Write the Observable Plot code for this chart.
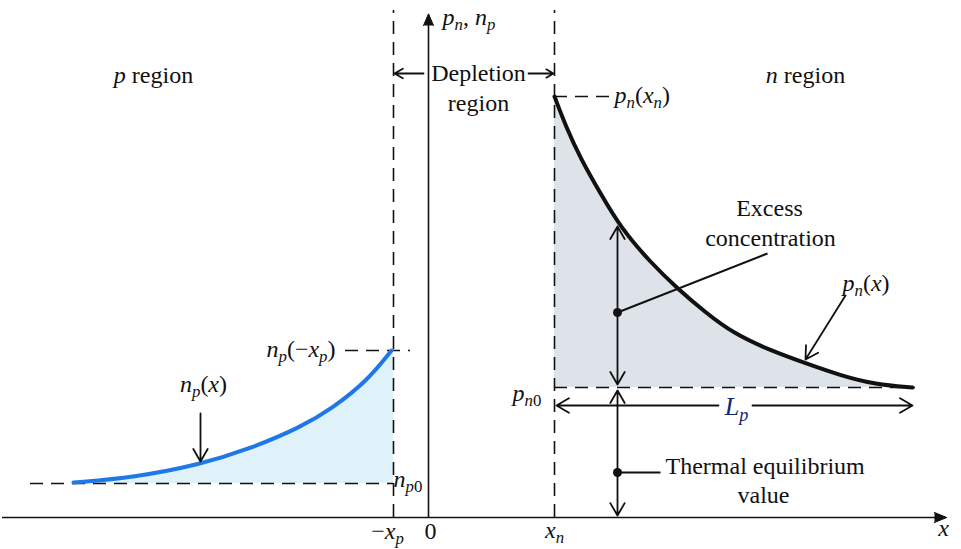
<!DOCTYPE html>
<html>
<head>
<meta charset="utf-8">
<script src="https://cdn.jsdelivr.net/npm/d3@7"></script>
<script src="https://cdn.jsdelivr.net/npm/@observablehq/plot@0.6"></script>
<style>
  html, body { margin: 0; padding: 0; background: #fff; }
  #chart svg { display: block; }
</style>
</head>
<body>
<div id="chart"></div>
<script>
// ---- Data (x: position relative to junction origin, y: concentration above axis) ----
const xP = -35;        // −x_p
const xN = 126;        // x_n
const pn0 = 130;       // thermal equilibrium hole conc. in n region
const np0 = 34;        // thermal equilibrium electron conc. in p region
const pnXn = 421;      // p_n(x_n)
const npXp = 167;      // n_p(−x_p)

// p_n(x) curve in the n region
const pnX = [126, 137, 152, 172, 192, 222, 249, 277, 305, 342, 375, 412, 447, 484];
const pnY = [421, 392, 359, 324, 290, 255, 229, 205, 184, 167, 155, 142, 133, 130];
// n_p(x) curve in the p region
const npX = [-355, -295, -228, -178, -128, -95, -61, -37];
const npY = [35, 40, 53, 69, 90, 110, 137, 167];

const pnCurve = pnX.map((x, i) => ({x, y: pnY[i]}));
const npCurve = npX.map((x, i) => ({x, y: npY[i]}));

// dashed guide lines
const vGuides = [{x: xP, y1: 0, y2: 507}, {x: xN, y1: 0, y2: 507}];
const hGuides = [
  {y: np0, x1: -398, x2: xP},
  {y: npXp, x1: -83, x2: -18},
  {y: pnXn, x1: xN, x2: 184},
  {y: pn0, x1: xN, x2: 487}
];

// arrows (open heads)
const arrows = [
  {x1: -5, y1: 444, x2: -34, y2: 444},     // depletion left
  {x1: 100, y1: 444, x2: 125, y2: 444},    // depletion right
  {x1: -228, y1: 104, x2: -228, y2: 56},   // n_p(x)
  {x1: 417, y1: 222, x2: 377, y2: 158},    // p_n(x)
  {x1: 189, y1: 205, x2: 189, y2: 291},    // excess up
  {x1: 189, y1: 205, x2: 189, y2: 133},    // excess down
  {x1: 189, y1: 45, x2: 189, y2: 127},     // thermal up
  {x1: 189, y1: 45, x2: 189, y2: 2},       // thermal down
  {x1: 290, y1: 112, x2: 128, y2: 112},    // L_p left
  {x1: 324, y1: 112, x2: 484, y2: 112}     // L_p right
];

// pointer lines and dots
const pointers = [
  {x1: 189, y1: 205, x2: 339, y2: 264},
  {x1: 189, y1: 45, x2: 232, y2: 45}
];
const dots = [{x: 189, y: 205}, {x: 189, y: 45}];

// axes
const axisLines = {xFrom: -426, xTo: 510, yTo: 494};
const axisHeads = [
  {x: 506, y: 0, rotate: 90, length: 21},
  {x: 0, y: 492, rotate: 0, length: 20}
];

// text labels ($...$ = math: letters italic; _x or _{..} = subscript)
const labels = [
  {x: -275, y: 442, text: "$p$ region", anchor: "middle"},
  {x: 377, y: 442, text: "$n$ region", anchor: "middle"},
  {x: 50, y: 444, text: "Depletion", anchor: "middle"},
  {x: 50, y: 414, text: "region", anchor: "middle"},
  {x: 14, y: 500, text: "$p_n, n_p$", anchor: "start"},
  {x: 186, y: 422, text: "$p_n(x_n)$", anchor: "start"},
  {x: 341, y: 309, text: "Excess", anchor: "middle"},
  {x: 342, y: 279, text: "concentration", anchor: "middle"},
  {x: 414, y: 234, text: "$p_n(x)$", anchor: "start"},
  {x: -93, y: 168, text: "$n_p(−x_p)$", anchor: "end"},
  {x: -225, y: 133, text: "$n_p(x)$", anchor: "middle"},
  {x: -35, y: 38, text: "$n_{p0}$", anchor: "start"},
  {x: 84, y: 124, text: "$p_{n0}$", anchor: "start"},
  {x: 237, y: 51, text: "Thermal equilibrium", anchor: "start"},
  {x: 335, y: 22, text: "value", anchor: "middle"},
  {x: -41, y: -14, text: "$−x_p$", anchor: "middle"},
  {x: 2, y: -14, text: "0", anchor: "middle"},
  {x: 126, y: -13, text: "$x_n$", anchor: "middle"},
  {x: 515, y: -11, text: "$x$", anchor: "middle"}
];
const lpLabel = [{x: 308, y: 111, text: "$L_p$"}];

const ink = "#111";
const plot = Plot.plot({
  width: 961,
  height: 549,
  margin: 0,
  style: {background: "#fff"},
  x: {domain: [-428, 533], axis: null},
  y: {domain: [-32, 517], axis: null},
  marks: [
    Plot.areaY(pnCurve, {x: "x", y1: pn0, y2: "y", fill: "#dee3e9", curve: "basis"}),
    Plot.areaY(npCurve.concat([{x: xP, y: npXp}]), {x: "x", y1: np0, y2: "y", fill: "#dff2fa"}),
    Plot.ruleX(vGuides, {x: "x", y1: "y1", y2: "y2", stroke: ink, strokeWidth: 1.6, strokeDasharray: "13,8"}),
    Plot.ruleY(hGuides, {y: "y", x1: "x1", x2: "x2", stroke: ink, strokeWidth: 1.6, strokeDasharray: "13,8"}),
    Plot.ruleY([0], {x1: axisLines.xFrom, x2: axisLines.xTo, stroke: ink, strokeWidth: 1.6}),
    Plot.ruleX([0], {y1: 0, y2: axisLines.yTo, stroke: ink, strokeWidth: 1.6}),
    Plot.vector(axisHeads, {x: "x", y: "y", rotate: "rotate", length: "length", shape: "spike", r: 5, anchor: "start", fill: ink, stroke: ink, strokeWidth: 1}),
    Plot.line(pnCurve, {x: "x", y: "y", stroke: ink, strokeWidth: 4, curve: "basis"}),
    Plot.line(npCurve, {x: "x", y: "y", stroke: "#1f78e6", strokeWidth: 4, curve: "basis"}),
    Plot.arrow(arrows, {x1: "x1", y1: "y1", x2: "x2", y2: "y2", stroke: ink, strokeWidth: 1.8, headLength: 12, headAngle: 60}),
    Plot.link(pointers, {x1: "x1", y1: "y1", x2: "x2", y2: "y2", stroke: ink, strokeWidth: 2}),
    Plot.dot(dots, {x: "x", y: "y", r: 4.5, fill: ink}),
    Plot.text(labels, {x: "x", y: "y", text: "text", fontSize: 24, fill: ink}),
    Plot.text(lpLabel, {x: "x", y: "y", text: "text", textAnchor: "middle", fontSize: 26, fill: "#16286b"})
  ]
});

document.getElementById("chart").appendChild(plot);

// apply serif font, anchors per label and rich text (italic math letters, subscripts)
plot.querySelectorAll("text").forEach(t => {
  t.style.fontFamily = '"Liberation Serif"';
  const s = t.textContent;
  const lab = labels.find(l => l.text === s);
  if (lab) t.setAttribute("text-anchor", lab.anchor);
  if (!/[$_]/.test(s)) return;
  const fs = parseFloat(getComputedStyle(t).fontSize) || 24;
  const segs = [];
  let math = false, i = 0;
  while (i < s.length) {
    const c = s[i];
    if (c === "$") { math = !math; i++; continue; }
    let sub = false, chunk;
    if (c === "_") {
      sub = true;
      if (s[i + 1] === "{") { const j = s.indexOf("}", i); chunk = s.slice(i + 2, j); i = j + 1; }
      else { chunk = s[i + 1]; i += 2; }
    } else { chunk = c; i++; }
    for (const ch of chunk) {
      const it = math && /[A-Za-z]/.test(ch);
      const last = segs[segs.length - 1];
      if (last && last.it === it && last.sub === sub) last.t += ch;
      else segs.push({t: ch, it, sub});
    }
  }
  t.textContent = "";
  let shifted = false;
  const shift = 0.22 * fs;
  for (const seg of segs) {
    const ts = document.createElementNS("http://www.w3.org/2000/svg", "tspan");
    ts.textContent = seg.t;
    if (seg.it) ts.setAttribute("font-style", "italic");
    if (seg.sub) {
      ts.setAttribute("font-size", (0.7 * fs).toFixed(1));
      if (!shifted) { ts.setAttribute("dy", shift.toFixed(1)); shifted = true; }
    } else if (shifted) {
      ts.setAttribute("dy", (-shift).toFixed(1)); shifted = false;
    }
    t.appendChild(ts);
  }
});
</script>
</body>
</html>
